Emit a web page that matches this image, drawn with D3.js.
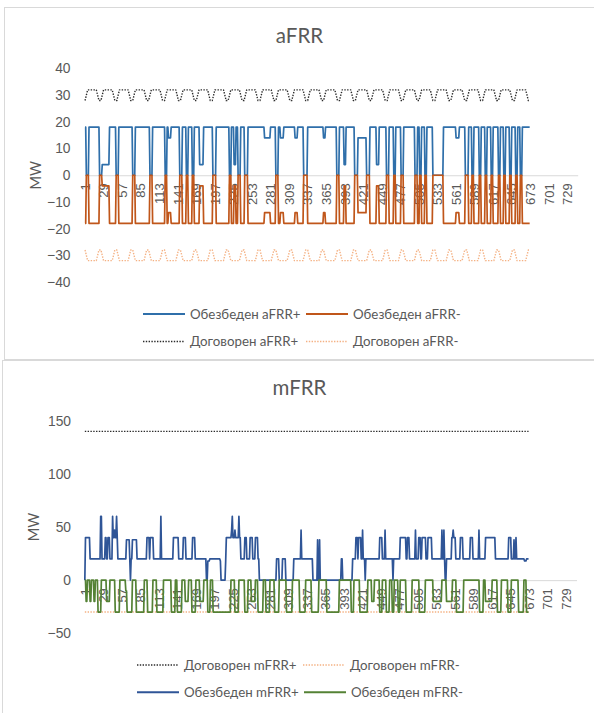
<!DOCTYPE html>
<html>
<head>
<meta charset="utf-8">
<script src="https://cdn.jsdelivr.net/npm/d3@7"></script>
<style>
  html, body { margin: 0; padding: 0; background: #fff; }
  svg { display: block; font-family: Lato, "Liberation Sans", sans-serif; }
</style>
</head>
<body>
<svg id="chart" width="594" height="713"></svg>
<script>
// ---- data -------------------------------------------------------------
const dataHours = 672;            // hours with values
const axisHours = 744;            // hours shown on the category axis
const hourTicks = [1, 29, 57, 85, 113, 141, 169, 197, 225, 253, 281, 309, 337, 365,
                   393, 421, 449, 477, 505, 533, 561, 589, 617, 645, 673, 701, 729];
const afrrTicks = [40, 30, 20, 10, 0, -10, -20, -30, -40];
const mfrrTicks = [150, 100, 50, 0, -50];

// contracted aFRR by hour of day (MW)
const afrrUpContractedByHour   = [28, 29, 30, 31, 32, 32, 32, 32, 32, 32, 32, 32,
                                  32, 32, 32, 32, 32, 32, 31, 30, 29, 28, 28, 28];
const afrrDownContractedByHour = [-28, -29, -30, -31, -32, -32, -32, -32, -32, -32, -32, -32,
                                  -32, -32, -32, -32, -32, -32, -31, -30, -29, -28, -28, -28];

// contracted mFRR (MW)
const mfrrUpContracted = 140;
const mfrrDownContracted = -30;

// provided reserve, as runs: [first hour, last hour, MW]
const afrrUpRuns = [
  [1,2,18],[3,6,0],[7,22,18],[23,26,0],[27,37,4],[38,47,18],[48,51,0],[52,72,18],[73,76,0],
  [77,98,18],[99,102,0],[103,121,18],[122,124,0],[125,126,18],[127,130,14],[131,143,18],
  [144,147,0],[148,153,18],[154,156,0],[157,162,18],[163,165,0],[166,173,18],[174,179,4],
  [180,193,18],[194,198,0],[199,218,18],[219,221,0],[222,225,18],[226,228,4],[229,231,18],
  [232,235,0],[236,241,18],[242,246,0],[247,271,18],[272,280,14],[281,288,18],[289,292,0],
  [293,295,18],[296,300,14],[301,317,18],[318,321,14],[322,330,18],[331,336,0],[337,360,18],
  [361,363,14],[364,380,18],[381,384,0],[385,391,18],[392,394,4],[395,407,18],[408,412,0],
  [413,425,14],[426,430,0],[431,440,18],[441,444,4],[445,455,18],[456,459,0],[460,466,18],
  [467,469,0],[470,477,18],[478,481,0],[482,498,18],[499,502,0],[503,505,18],[506,508,0],
  [509,513,18],[514,516,0],[517,525,18],[526,541,0],[542,560,18],[561,565,14],[566,574,18],
  [575,579,0],[580,584,18],[585,587,0],[588,595,18],[596,598,0],[599,604,18],[605,607,0],
  [608,613,18],[614,616,0],[617,624,18],[625,627,0],[628,632,18],[633,635,0],[636,641,18],
  [642,644,0],[645,650,18],[651,653,0],[654,657,18],[658,660,0],[661,672,18]
];
const afrrDownRuns = [
  [1,2,-18],[3,6,0],[7,22,-18],[23,26,0],[27,37,-4],[38,47,-18],[48,51,0],[52,72,-18],[73,76,0],
  [77,98,-18],[99,102,0],[103,121,-18],[122,124,0],[125,126,-18],[127,130,-14],[131,143,-18],
  [144,147,0],[148,153,-18],[154,156,0],[157,162,-18],[163,165,0],[166,173,-18],[174,179,-4],
  [180,193,-18],[194,198,0],[199,218,-18],[219,221,0],[222,225,-18],[226,228,-4],[229,231,-18],
  [232,235,0],[236,241,-18],[242,246,0],[247,271,-18],[272,280,-14],[281,288,-18],[289,292,0],
  [293,295,-18],[296,300,-14],[301,317,-18],[318,321,-14],[322,330,-18],[331,336,0],[337,360,-18],
  [361,363,-14],[364,380,-18],[381,384,0],[385,391,-18],[392,394,-4],[395,407,-18],[408,412,0],
  [413,425,-14],[426,430,0],[431,440,-18],[441,444,-4],[445,455,-18],[456,459,0],[460,466,-18],
  [467,469,0],[470,477,-18],[478,481,0],[482,498,-18],[499,502,0],[503,505,-18],[506,508,0],
  [509,513,-18],[514,516,0],[517,525,-18],[526,541,0],[542,560,-18],[561,565,-14],[566,574,-18],
  [575,579,0],[580,584,-18],[585,587,0],[588,595,-18],[596,598,0],[599,604,-18],[605,607,0],
  [608,613,-18],[614,616,0],[617,624,-18],[625,627,0],[628,632,-18],[633,635,0],[636,641,-18],
  [642,644,0],[645,650,-18],[651,653,0],[654,657,-18],[658,660,0],[661,672,-18]
];
const mfrrUpRuns = [
  [1,1,0],[2,8,40],[9,24,20],[25,26,60],[27,31,20],[32,33,40],[34,35,20],[36,38,40],[39,42,20],
  [43,43,60],[44,45,40],[46,46,47],[47,48,40],[49,49,60],[50,50,40],[51,63,20],[64,68,38],
  [69,69,20],[70,70,0],[71,72,20],[73,79,38],[80,94,20],[95,98,40],[99,99,20],[100,104,40],
  [105,115,20],[116,116,60],[117,134,20],[135,142,40],[143,149,20],[150,153,40],[154,163,20],
  [164,167,40],[168,184,20],[185,186,0],[187,189,18],[190,205,20],[206,206,18],[207,213,0],
  [214,214,18],[215,222,40],[223,223,47],[224,224,60],[225,227,40],[228,228,47],[229,233,40],
  [234,234,60],[235,236,40],[237,242,20],[243,245,40],[246,250,20],[251,254,40],[255,258,20],
  [259,262,40],[263,264,20],[265,290,0],[291,294,20],[295,299,0],[300,304,20],[305,316,0],
  [317,327,20],[328,328,47],[329,345,20],[346,352,0],[353,353,38],[354,355,0],[356,356,38],
  [357,388,0],[389,390,20],[391,405,0],[406,410,20],[411,413,40],[414,414,20],[415,418,40],
  [419,420,20],[421,421,47],[422,424,20],[425,425,0],[426,446,20],[447,450,40],[451,454,20],
  [455,455,47],[456,466,20],[467,467,0],[468,477,20],[478,486,40],[487,488,20],[489,491,40],
  [492,500,20],[501,501,47],[502,505,20],[506,508,40],[509,510,20],[511,516,40],[517,519,20],
  [520,525,40],[526,540,20],[541,541,47],[542,543,20],[544,544,47],[545,545,20],[546,547,0],
  [548,555,20],[556,557,40],[558,558,47],[559,561,40],[562,568,20],[569,572,40],[573,583,20],
  [584,587,40],[588,596,20],[597,597,47],[598,606,20],[607,621,40],[622,641,20],[642,645,40],
  [646,649,20],[650,650,38],[651,652,20],[653,653,40],[654,665,20],[666,668,18],[669,672,20]
];
const mfrrDownRuns = [
  [1,2,0],[3,4,-20],[5,8,0],[9,10,-20],[11,14,0],[15,16,-20],[17,20,0],[21,25,-30],[26,33,0],
  [34,38,-20],[39,46,0],[47,53,-30],[54,62,0],[63,64,-10],[65,72,-30],[73,78,0],[79,90,-30],
  [91,95,0],[96,103,-30],[104,109,0],[110,119,-30],[120,131,0],[132,137,-30],[138,140,0],
  [141,147,-30],[148,152,0],[153,157,-20],[158,162,0],[163,168,-30],[169,174,0],[175,180,-20],
  [181,186,0],[187,190,-30],[191,194,0],[195,221,-30],[222,227,0],[228,233,-30],[234,242,0],
  [243,247,-30],[248,252,0],[253,258,-20],[259,262,0],[263,270,-30],[271,274,0],[275,280,-30],
  [281,287,0],[288,294,-30],[295,305,0],[306,314,-30],[315,325,0],[326,334,-30],[335,343,0],
  [344,354,-30],[355,366,0],[367,385,-30],[386,403,0],[404,407,-30],[408,416,0],[417,428,-30],
  [429,434,0],[435,438,-20],[439,446,0],[447,450,-30],[451,456,0],[457,461,-30],[462,465,0],
  [466,468,-30],[469,474,0],[475,477,-30],[478,486,0],[487,495,-30],[496,506,0],[507,515,-30],
  [516,527,0],[528,540,-20],[541,547,0],[548,556,-20],[557,562,0],[563,573,-30],[574,597,0],
  [598,603,-30],[604,606,0],[607,616,-20],[617,624,0],[625,630,-30],[631,640,0],[641,645,-30],
  [646,656,0],[657,664,-30],[665,668,0],[669,672,-30]
];

// ---- helpers ----------------------------------------------------------
const hours = d3.range(1, dataHours + 1);
function fromRuns(runs) {
  const out = [];
  runs.forEach(([a, b, v]) => { for (let h = a; h <= b; h++) out.push({ hour: h, mw: v }); });
  return out;
}
function fromHourOfDay(profile) {
  return hours.map(h => ({ hour: h, mw: profile[(h - 1) % 24] }));
}
function constant(v) {
  return hours.map(h => ({ hour: h, mw: v }));
}

const textColor = "#595959";
const svg = d3.select("#chart");

// panel frames
svg.append("rect").attr("x", 4.5).attr("y", 7.5).attr("width", 600).attr("height", 352)
  .attr("fill", "#fff").attr("stroke", "#d9d9d9");
svg.append("rect").attr("x", 2.5).attr("y", 360.5).attr("width", 600).attr("height", 360)
  .attr("fill", "#fff").attr("stroke", "#d9d9d9");

function drawPanel(cfg) {
  const g = svg.append("g");
  const x = d3.scaleBand().domain(d3.range(1, axisHours + 1)).range([cfg.left, cfg.right]).padding(0);
  const bw = x.bandwidth();
  const y = d3.scaleLinear().domain(cfg.yDomain).range([cfg.bottom, cfg.top]);

  // title
  g.append("text").attr("x", 299.5).attr("y", cfg.titleY).attr("text-anchor", "middle")
    .attr("font-size", 20.5).attr("fill", textColor).text(cfg.title);

  // y axis (labels only)
  const ya = g.append("g").attr("transform", `translate(${cfg.left},0)`)
    .call(d3.axisLeft(y).tickValues(cfg.yTicks).tickSize(0).tickPadding(cfg.left - cfg.labelRight));
  ya.select(".domain").remove();
  ya.selectAll("text").attr("fill", textColor).attr("font-size", 13.8).attr("font-family", null);

  // axis title
  g.append("text").attr("transform", `translate(${cfg.mwX},${(cfg.top + cfg.bottom) / 2}) rotate(-90)`)
    .attr("text-anchor", "middle").attr("dy", "0.35em").attr("font-size", 14.5)
    .attr("fill", textColor).text("MW");

  // category axis at zero
  const xa = g.append("g").attr("transform", `translate(0,${y(0)})`)
    .call(d3.axisBottom(x).tickValues(hourTicks).tickSize(0).tickSizeOuter(0));
  xa.select(".domain").attr("stroke", "#d9d9d9").attr("stroke-width", 1);
  xa.selectAll(".tick text")
    .attr("transform", "rotate(-90)")
    .attr("text-anchor", "end")
    .attr("x", -8).attr("y", 0).attr("dy", "0.35em")
    .attr("fill", textColor).attr("font-size", 13).attr("font-family", null);

  // series
  const line = d3.line().x(d => x(d.hour) + bw / 2).y(d => y(d.mw));
  cfg.series.forEach(s => {
    g.append("path").datum(s.data).attr("fill", "none").attr("stroke", s.color)
      .attr("stroke-width", s.dotted ? 1.4 : 1.7)
      .attr("stroke-dasharray", s.dotted ? "1.4,1.4" : null)
      .attr("stroke-linejoin", "round")
      .attr("d", line);
  });

  // legend
  cfg.legend.forEach(item => {
    const s = cfg.series.find(d => d.name === item.name);
    g.append("line").attr("x1", item.x).attr("x2", item.x + 42)
      .attr("y1", item.y).attr("y2", item.y)
      .attr("stroke", s.color).attr("stroke-width", s.dotted ? 1.4 : 2)
      .attr("stroke-dasharray", s.dotted ? "1.4,1.4" : null);
    g.append("text").attr("x", item.x + 47).attr("y", item.y).attr("dy", "0.35em")
      .attr("font-size", 13.3).attr("fill", textColor).text(item.name);
  });
}

drawPanel({
  title: "aFRR", titleY: 42.5,
  left: 84.7, right: 577.7, top: 68.5, bottom: 282, labelRight: 70.5, mwX: 36,
  yDomain: [-40, 40], yTicks: afrrTicks,
  series: [
    { name: "Обезбеден aFRR+", color: "#2f6faa", data: fromRuns(afrrUpRuns) },
    { name: "Обезбеден aFRR-", color: "#c0561a", data: fromRuns(afrrDownRuns) },
    { name: "Договорен aFRR+", color: "#2b2b2b", dotted: true, data: fromHourOfDay(afrrUpContractedByHour) },
    { name: "Договорен aFRR-", color: "#f4b183", dotted: true, data: fromHourOfDay(afrrDownContractedByHour) }
  ],
  legend: [
    { name: "Обезбеден aFRR+", x: 143, y: 314 },
    { name: "Обезбеден aFRR-", x: 306, y: 314 },
    { name: "Договорен aFRR+", x: 143, y: 341.5 },
    { name: "Договорен aFRR-", x: 306, y: 341.5 }
  ]
});

drawPanel({
  title: "mFRR", titleY: 394.5,
  left: 84.5, right: 576.5, top: 420.7, bottom: 633.3, labelRight: 71, mwX: 34,
  yDomain: [-50, 150], yTicks: mfrrTicks,
  series: [
    { name: "Договорен mFRR+", color: "#2b2b2b", dotted: true, data: constant(mfrrUpContracted) },
    { name: "Договорен mFRR-", color: "#f4b183", dotted: true, data: constant(mfrrDownContracted) },
    { name: "Обезбеден mFRR+", color: "#2f5597", data: fromRuns(mfrrUpRuns) },
    { name: "Обезбеден mFRR-", color: "#548235", data: fromRuns(mfrrDownRuns) }
  ],
  legend: [
    { name: "Договорен mFRR+", x: 137, y: 665 },
    { name: "Договорен mFRR-", x: 303, y: 665 },
    { name: "Обезбеден mFRR+", x: 137, y: 692.3 },
    { name: "Обезбеден mFRR-", x: 304, y: 692.3 }
  ]
});
</script>
</body>
</html>
